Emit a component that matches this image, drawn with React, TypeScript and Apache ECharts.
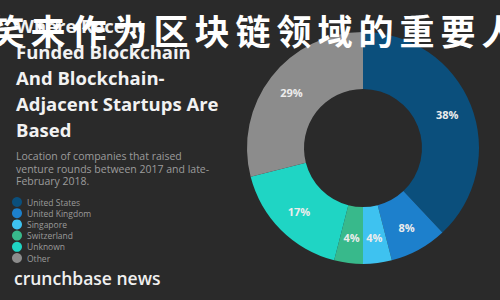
import React, { useEffect, useRef } from "react";
import * as echarts from "echarts";

const categories = ["United States", "United Kingdom", "Singapore", "Switzerland", "Unknown", "Other"];
const shares = [38, 8, 4, 4, 17, 29];
const sliceColors = ["#0b4f7c", "#1d80cc", "#3ec2f0", "#38b98b", "#1fd5c4", "#8c8c8c"];
const titleLines = ["Where Recent", "Funded Blockchain", "And Blockchain-", "Adjacent Startups Are", "Based"];
const subtitleLines = [
  "Location of companies that raised",
  "venture rounds between 2017 and late-",
  "February 2018.",
];
const watermark = "笑来作为区块链领域的重要人";
const footer = "crunchbase news";

export default function App() {
  const ref = useRef<HTMLDivElement>(null);
  useEffect(() => {
    if (!ref.current) return;
    const chart = echarts.init(ref.current, undefined, { renderer: "svg" });
    const chars = Array.from(watermark);
    chart.setOption({
      animation: false,
      backgroundColor: "#2a2a2a",
      color: sliceColors,
      legend: {
        orient: "vertical",
        left: 7,
        top: 192,
        itemWidth: 10,
        itemHeight: 10,
        itemGap: 1.2,
        icon: "circle",
        data: categories,
        textStyle: { color: "#9a9a9a", fontSize: 8.5, fontFamily: "Open Sans", lineHeight: 10 },
      },
      graphic: [
        {
          type: "text",
          left: 16,
          top: 12,
          style: {
            text: titleLines.join("\n"),
            fill: "#f2f2f2",
            font: "bold 18.5px 'Open Sans'",
            lineHeight: 26,
          },
        },
        {
          type: "text",
          left: 16,
          top: 150,
          style: {
            text: subtitleLines.join("\n"),
            fill: "#9c9c9c",
            font: "10.5px 'Open Sans'",
            lineHeight: 12.5,
          },
        },
        {
          type: "text",
          left: 14,
          top: 269,
          style: {
            text: footer,
            fill: "#f0f0f0",
            font: "600 17.5px 'Open Sans'",
          },
        },
        {
          type: "group",
          z: 100,
          children: chars.map((ch, i) => ({
            type: "text",
            x: 89 + (i - 2) * 41,
            y: 29,
            z: 100,
            style: {
              text: ch,
              fill: "#ffffff",
              font: "bold 35px 'Noto Sans CJK SC'",
              align: "center",
              verticalAlign: "middle",
            },
          })),
        },
      ],
      series: [
        {
          type: "pie",
          center: [363, 148],
          radius: [59, 116],
          startAngle: 90,
          clockwise: true,
          avoidLabelOverlap: false,
          label: {
            show: true,
            position: "inside",
            formatter: "{c}%",
            color: "#ececec",
            fontSize: 11,
            fontWeight: "bold",
            fontFamily: "Open Sans",
          },
          labelLine: { show: false },
          emphasis: { disabled: true },
          itemStyle: { borderWidth: 0 },
          data: categories.map((name, i) => ({ name, value: shares[i] })),
        },
      ],
    });
    return () => chart.dispose();
  }, []);
  return (
    <div
      ref={ref}
      style={{ position: "fixed", left: 0, top: 0, width: 500, height: 300 }}
    />
  );
}
